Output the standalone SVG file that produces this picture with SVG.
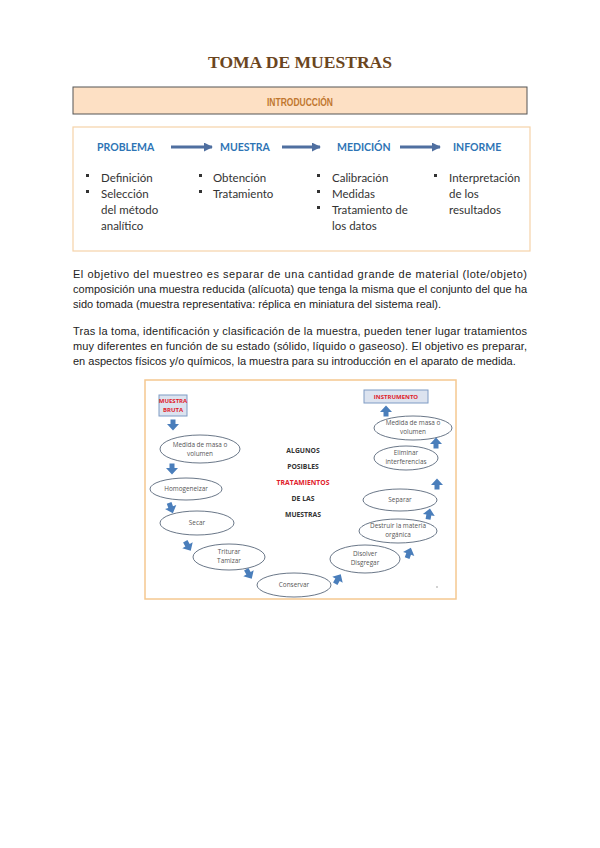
<svg xmlns="http://www.w3.org/2000/svg" width="600" height="848" viewBox="0 0 600 848">
<style>
.title{font-family:"Liberation Serif",serif;font-weight:bold;font-size:17px;fill:#6b4520}
.intro{font-family:"Liberation Sans",sans-serif;font-weight:bold;font-size:11px;fill:#c0772f}
.hd{font-family:Lato,"Liberation Sans",sans-serif;font-weight:bold;font-size:10.5px;fill:#2e74b5}
.bl{font-family:Lato,"Liberation Sans",sans-serif;font-size:11.5px;fill:#333}
.body{font-family:"Liberation Sans",Arial,sans-serif;font-size:11px;fill:#222}
.el{fill:#fff;stroke:#44546a;stroke-width:0.8}
.lbl{font-family:"Open Sans","Liberation Sans",sans-serif;font-size:6.4px;fill:#555;text-anchor:middle}
.ctr{font-family:"Open Sans","Liberation Sans",sans-serif;font-weight:bold;font-size:6.8px;fill:#333;text-anchor:middle}
.red{fill:#e0202a}
.bx{fill:#dce3ef;stroke:#7f9bc4;stroke-width:1}
.bxt{font-family:"Open Sans","Liberation Sans",sans-serif;font-weight:bold;font-size:6px;fill:#e0202a;text-anchor:middle}
.arr{fill:#4a7ebb}
</style>
<defs>
<path id="ba" d="M-2.5,-5.5 h5 v4.5 h3.5 l-6,6.5 l-6,-6.5 h3.5 z"/>
<marker id="mh" viewBox="0 0 10 10" refX="9" refY="5" markerWidth="3" markerHeight="3" orient="auto"><path d="M0,0 L10,5 L0,10 z" fill="#4f6fa0"/></marker>
</defs>
<rect width="600" height="848" fill="#fff"/>
<text class="title" x="300" y="68" text-anchor="middle" textLength="184" lengthAdjust="spacingAndGlyphs">TOMA DE MUESTRAS</text>
<g id="introduccion">
<rect x="73" y="87" width="454" height="27" fill="#fde0c4" stroke="#555" stroke-width="1"/>
<text class="intro" x="300" y="106" text-anchor="middle" textLength="66" lengthAdjust="spacingAndGlyphs">INTRODUCCIÓN</text>
</g>
<g id="esquema">
<rect x="73" y="127" width="457" height="124" fill="#fff" stroke="#f5d3a8" stroke-width="1.2"/>
<g id="problema">
<text class="hd" x="97" y="151">PROBLEMA</text>
<rect x="86" y="174" width="3" height="3" fill="#333"/><text class="bl" x="101" y="182">Definición</text>
<rect x="86" y="190" width="3" height="3" fill="#333"/><text class="bl" x="101" y="198">Selección</text>
<text class="bl" x="101" y="214">del método</text>
<text class="bl" x="101" y="230">analítico</text>
</g>
<g id="muestra">
<text class="hd" x="220" y="151">MUESTRA</text>
<rect x="199" y="174" width="3" height="3" fill="#333"/><text class="bl" x="213" y="182">Obtención</text>
<rect x="199" y="190" width="3" height="3" fill="#333"/><text class="bl" x="213" y="198">Tratamiento</text>
</g>
<g id="medicion">
<text class="hd" x="337" y="151">MEDICIÓN</text>
<rect x="317" y="174" width="3" height="3" fill="#333"/><text class="bl" x="332" y="182">Calibración</text>
<rect x="317" y="190" width="3" height="3" fill="#333"/><text class="bl" x="332" y="198">Medidas</text>
<rect x="317" y="206" width="3" height="3" fill="#333"/><text class="bl" x="332" y="214">Tratamiento de</text>
<text class="bl" x="332" y="230">los datos</text>
</g>
<g id="informe">
<text class="hd" x="453" y="151">INFORME</text>
<rect x="434" y="174" width="3" height="3" fill="#333"/><text class="bl" x="449" y="182">Interpretación</text>
<text class="bl" x="449" y="198">de los</text>
<text class="bl" x="449" y="214">resultados</text>
</g>
<g id="flechas" stroke="#4f6fa0" stroke-width="3" marker-end="url(#mh)">
<line x1="171" y1="147" x2="212" y2="147"/>
<line x1="282" y1="147" x2="320" y2="147"/>
<line x1="400" y1="147" x2="440" y2="147"/>
</g>
</g>
<g id="parrafos" class="body">
<text x="73" y="278" textLength="454" lengthAdjust="spacing">El objetivo del muestreo es separar de una cantidad grande de material (lote/objeto)</text>
<text x="73" y="293" textLength="454" lengthAdjust="spacing">composición una muestra reducida (alícuota) que tenga la misma que el conjunto del que ha</text>
<text x="73" y="308">sido tomada (muestra representativa: réplica en miniatura del sistema real).</text>
<text x="73" y="335" textLength="454" lengthAdjust="spacing">Tras la toma, identificación y clasificación de la muestra, pueden tener lugar tratamientos</text>
<text x="73" y="350" textLength="454" lengthAdjust="spacing">muy diferentes en función de su estado (sólido, líquido o gaseoso). El objetivo es preparar,</text>
<text x="73" y="365">en aspectos físicos y/o químicos, la muestra para su introducción en el aparato de medida.</text>
</g>
<g id="tratamientos">
<rect x="145" y="380" width="311" height="219" fill="#fff" stroke="#f5c890" stroke-width="1.5"/>
<g id="muestra-bruta"><rect class="bx" x="159" y="395" width="28" height="21"/>
<text class="bxt" x="173" y="403">MUESTRA</text><text class="bxt" x="173" y="412">BRUTA</text></g>
<g id="medida1"><ellipse class="el" cx="200" cy="449" rx="40" ry="14"/>
<text class="lbl" x="200" y="447">Medida de masa o</text><text class="lbl" x="200" y="456">volumen</text></g>
<g id="homogeneizar"><ellipse class="el" cx="186" cy="489" rx="36" ry="11"/>
<text class="lbl" x="186" y="491">Homogeneizar</text></g>
<g id="secar"><ellipse class="el" cx="197" cy="523" rx="37" ry="12"/>
<text class="lbl" x="197" y="525">Secar</text></g>
<g id="triturar"><ellipse class="el" cx="229" cy="557" rx="36" ry="13"/>
<text class="lbl" x="229" y="554">Triturar</text><text class="lbl" x="229" y="563">Tamizar</text></g>
<g id="conservar"><ellipse class="el" cx="294" cy="585" rx="37" ry="12"/>
<text class="lbl" x="294" y="587">Conservar</text></g>
<g id="disolver"><ellipse class="el" cx="365" cy="559" rx="35" ry="14"/>
<text class="lbl" x="365" y="556">Disolver</text><text class="lbl" x="365" y="565">Disgregar</text></g>
<g id="destruir"><ellipse class="el" cx="398" cy="531" rx="39" ry="12"/>
<text class="lbl" x="398" y="528">Destruir la materia</text><text class="lbl" x="398" y="537">orgánica</text></g>
<g id="separar"><ellipse class="el" cx="400" cy="500" rx="37" ry="11"/>
<text class="lbl" x="400" y="502">Separar</text></g>
<g id="eliminar"><ellipse class="el" cx="406" cy="458" rx="32" ry="12"/>
<text class="lbl" x="406" y="455">Eliminar</text><text class="lbl" x="406" y="464">interferencias</text></g>
<g id="medida2"><ellipse class="el" cx="413" cy="428" rx="39" ry="12"/>
<text class="lbl" x="413" y="425">Medida de masa o</text><text class="lbl" x="413" y="434">volumen</text></g>
<g id="instrumento"><rect class="bx" x="364" y="390" width="64" height="13"/>
<text class="bxt" x="396" y="399">INSTRUMENTO</text></g>
<g id="titulo-central">
<text class="ctr" x="303" y="453">ALGUNOS</text>
<text class="ctr" x="303" y="469">POSIBLES</text>
<text class="ctr red" x="303" y="485">TRATAMIENTOS</text>
<text class="ctr" x="303" y="501">DE LAS</text>
<text class="ctr" x="303" y="517">MUESTRAS</text>
</g>
<circle cx="437" cy="587" r="0.8" fill="#999"/>
</g>
<g id="conectores" class="arr">
<use href="#ba" transform="translate(173,425)"/>
<use href="#ba" transform="translate(172,469)"/>
<use href="#ba" transform="translate(171,508) rotate(-20)"/>
<use href="#ba" transform="translate(188,546) rotate(-30)"/>
<use href="#ba" transform="translate(249,574) rotate(-30)"/>
<use href="#ba" transform="translate(338,579) rotate(210)"/>
<use href="#ba" transform="translate(409,553) rotate(200)"/>
<use href="#ba" transform="translate(429,514) rotate(190)"/>
<use href="#ba" transform="translate(437,484) rotate(180)"/>
<use href="#ba" transform="translate(436,443) rotate(180)"/>
<use href="#ba" transform="translate(386,411) rotate(180)"/>
</g>
</svg>
